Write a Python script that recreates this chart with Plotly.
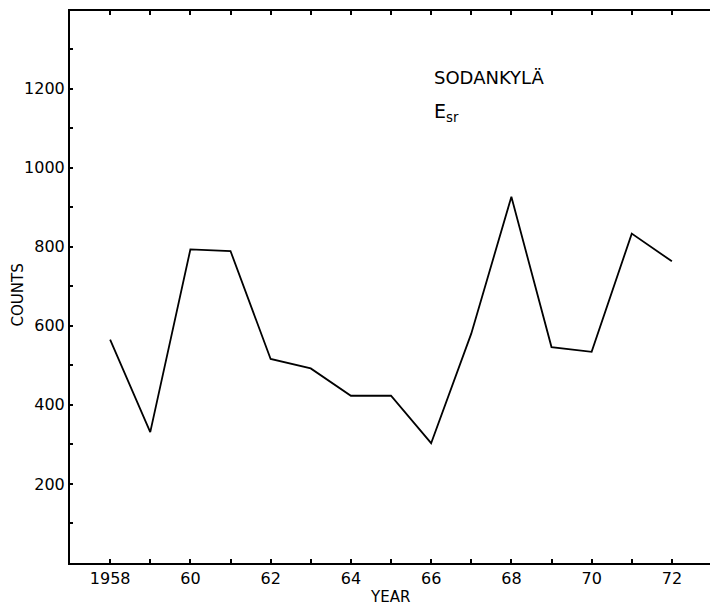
import plotly.graph_objects as go

years = [1958, 1959, 1960, 1961, 1962, 1963, 1964, 1965, 1966, 1967, 1968, 1969, 1970, 1971, 1972]
counts = [565, 331, 793, 789, 516, 492, 423, 423, 303, 580, 926, 546, 534, 833, 763]

y_tick_vals = [200, 400, 600, 800, 1000, 1200]
y_tick_text = ["200", "400", "600", "800", "1000", "1200"]
x_tick_vals = [1958, 1960, 1962, 1964, 1966, 1968, 1970, 1972]
x_tick_text = ["1958", "60", "62", "64", "66", "68", "70", "72"]

FONT = "DejaVu Sans"

fig = go.Figure()
fig.add_trace(go.Scatter(x=years, y=counts, mode="lines",
                         line=dict(color="black", width=1.8), showlegend=False,
                         hoverinfo="skip"))

fig.update_layout(
    width=710, height=607,
    margin=dict(l=70, r=0, t=11, b=44),
    paper_bgcolor="white", plot_bgcolor="white",
    font=dict(family=FONT, size=16, color="black"),
    xaxis=dict(range=[1957, 1972.95], tickmode="array", tickvals=x_tick_vals,
               ticktext=x_tick_text, ticks="inside", ticklen=4, tickwidth=1.5,
               tickcolor="black", showline=True, linecolor="black", linewidth=2,
               mirror="ticks", showgrid=False, zeroline=False,
               minor=dict(ticks="inside", dtick=1, tick0=1957, ticklen=4,
                          tickwidth=1.5, tickcolor="black", showgrid=False),
               tickfont=dict(family=FONT, size=16)),
    yaxis=dict(range=[0, 1396], tickmode="array", tickvals=y_tick_vals,
               ticktext=y_tick_text, ticks="inside", ticklen=3, tickwidth=1.5,
               tickcolor="black", showline=True, linecolor="black", linewidth=2,
               showgrid=False, zeroline=False,
               minor=dict(ticks="inside", dtick=100, tick0=0, ticklen=3,
                          tickwidth=1.5, tickcolor="black", showgrid=False),
               tickfont=dict(family=FONT, size=16)),
    annotations=[
        dict(text="COUNTS", xref="paper", yref="paper", x=-0.081, y=0.485,
             textangle=-90, showarrow=False, font=dict(family=FONT, size=15),
             xanchor="center", yanchor="middle"),
        dict(text="YEAR", xref="paper", yref="paper", x=0.5, y=-0.061,
             showarrow=False, font=dict(family=FONT, size=15),
             xanchor="center", yanchor="middle"),
        dict(text="SODANKYLÄ", xref="paper", yref="paper", x=0.566, y=0.880,
             showarrow=False, font=dict(family=FONT, size=18),
             xanchor="left", yanchor="middle"),
        dict(text="E<sub>sr</sub>", xref="paper", yref="paper", x=0.566, y=0.816,
             showarrow=False, font=dict(family=FONT, size=19),
             xanchor="left", yanchor="middle"),
    ],
)

fig.write_html("out.html")
